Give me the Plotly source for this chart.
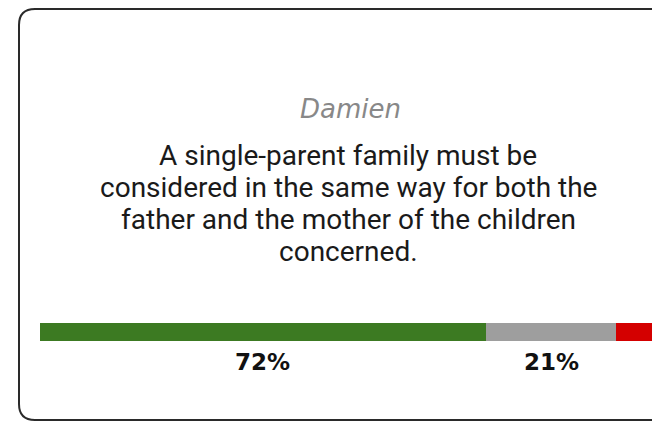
import plotly.graph_objects as go

# vote split for the statement
categories = ["Agree", "Neutral", "Disagree"]
shares = [72, 21, 7]
colors = ["#3c7a22", "#9e9e9e", "#d40000"]

author = "Damien"
statement_lines = [
    "A single-parent family must be",
    "considered in the same way for both the",
    "father and the mother of the children",
    "concerned.",
]

# page has an 8px body margin, so the figure fills the rest of the window
W, H = 652, 416

def px(x):
    return x / W

def py(y):
    return 1 - y / H

fig = go.Figure()
for cat, val, col in zip(categories, shares, colors):
    fig.add_trace(go.Bar(
        x=[val], y=[0], orientation="h", name=cat,
        marker=dict(color=col, line=dict(width=0)),
        width=1, hoverinfo="skip",
    ))

# percentage labels under each segment (small ones are left out)
annotations = []
start = 0
for val in shares:
    if val >= 10:
        annotations.append(dict(
            x=start + val / 2, xref="x", y=py(354), yref="paper",
            text=f"<b>{val}%</b>", showarrow=False,
            font=dict(family="DejaVu Sans", size=23, color="#111"),
            xanchor="center", yanchor="middle",
        ))
    start += val

annotations.append(dict(
    x=px(342), y=py(101), xref="paper", yref="paper",
    text=author, showarrow=False,
    font=dict(family="DejaVu Sans", size=26, color="#888", style="italic"),
    xanchor="center", yanchor="middle",
))
# statement, one annotation per line for tighter line spacing
for i, line in enumerate(statement_lines):
    annotations.append(dict(
        x=px(340), y=py(147 + 32 * i), xref="paper", yref="paper",
        text=line, showarrow=False,
        font=dict(family="Roboto", size=28, color="#1a1a1a"),
        xanchor="center", yanchor="middle",
    ))

# rounded card outline, running off the right edge
l, t, r, b, rad = 11, 1, 700, 412, 16
card = (f"M {px(l)},{py(t + rad)} Q {px(l)},{py(t)} {px(l + rad)},{py(t)} "
        f"L {px(r)},{py(t)} L {px(r)},{py(b)} L {px(l + rad)},{py(b)} "
        f"Q {px(l)},{py(b)} {px(l)},{py(b - rad)} Z")

fig.update_layout(
    width=W, height=H,
    barmode="stack", showlegend=False,
    margin=dict(l=0, r=0, t=0, b=0),
    paper_bgcolor="white", plot_bgcolor="white",
    xaxis=dict(domain=[px(32), px(651.4)], range=[0, 100], visible=False, fixedrange=True),
    yaxis=dict(domain=[py(333), py(315)], range=[-0.5, 0.5], visible=False, fixedrange=True),
    shapes=[dict(type="path", path=card, xref="paper", yref="paper",
                 line=dict(color="#2a2a2a", width=2), layer="below")],
    annotations=annotations,
)

fig.write_html("out.html", config={"displayModeBar": False})
